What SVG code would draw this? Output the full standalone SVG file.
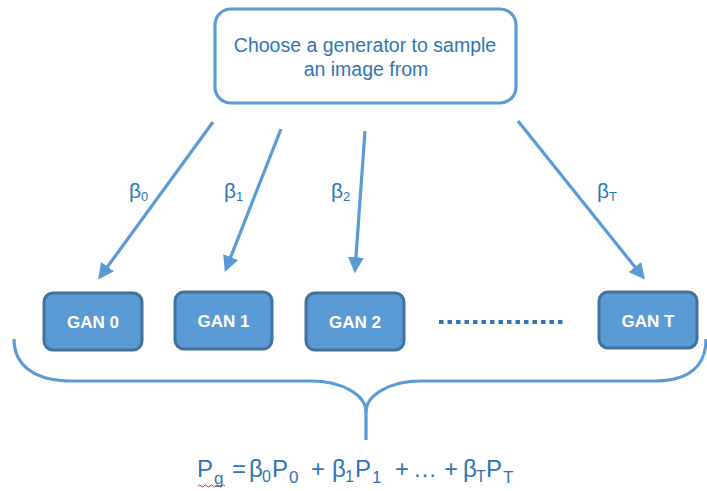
<svg xmlns="http://www.w3.org/2000/svg" width="707" height="491" viewBox="0 0 707 491">
<defs>
<marker id="ah" markerWidth="5" markerHeight="5" refX="4" refY="2.5" orient="auto" markerUnits="strokeWidth">
<path d="M0,0 L5,2.5 L0,5 Z" fill="#5b9bd5"/>
</marker>
<style>
.lbl{font-family:"Liberation Sans",Arial,sans-serif;fill:#2e75b6}
.gan rect{fill:#5b9bd5;stroke:#41719c;stroke-width:3}
.gan text{font-family:"Liberation Sans",Arial,sans-serif;font-weight:bold;font-size:17px;fill:#fff;text-anchor:middle}
.conn line{stroke:#5b9bd5;stroke-width:3.2;marker-end:url(#ah)}
.brace{fill:none;stroke:#5b9bd5;stroke-width:3.2}
</style>
</defs>
<rect width="707" height="491" fill="#fff"/>

<g id="top">
<rect x="215" y="9" width="301" height="94" rx="16" fill="#fff" stroke="#5b9bd5" stroke-width="3.2"/>
<text class="lbl" font-size="19.5" text-anchor="middle"><tspan x="365" y="52">Choose a generator to sample</tspan><tspan x="366" y="76">an image from</tspan></text>
</g>

<g id="connectors" class="conn">
<line x1="213" y1="122" x2="100" y2="277"/>
<line x1="281" y1="129" x2="226" y2="269"/>
<line x1="365" y1="131" x2="355" y2="270"/>
<line x1="518" y1="121" x2="643" y2="277"/>
</g>

<g id="labels" class="lbl" font-size="21">
<text x="129" y="198">β<tspan font-size="13" dy="3">0</tspan></text>
<text x="224" y="198">β<tspan font-size="13" dy="3">1</tspan></text>
<text x="331" y="198">β<tspan font-size="13" dy="3">2</tspan></text>
<text x="597" y="198">β<tspan font-size="13" dy="3">T</tspan></text>
</g>

<g id="gan0" class="gan"><rect x="44" y="293" width="98" height="57" rx="9"/><text x="93" y="328">GAN 0</text></g>
<g id="gan1" class="gan"><rect x="175" y="292" width="97" height="57" rx="9"/><text x="223.5" y="327">GAN 1</text></g>
<g id="gan2" class="gan"><rect x="306" y="293" width="98" height="57" rx="9"/><text x="355" y="328">GAN 2</text></g>
<g id="ganT" class="gan"><rect x="599" y="292" width="98" height="56" rx="9"/><text x="648" y="327">GAN T</text></g>

<line x1="439" y1="322" x2="566" y2="322" stroke="#2e75b6" stroke-width="4" stroke-dasharray="4.5 4"/>

<g id="brace" class="brace">
<path d="M14,339 C14,365 34,381 72,381 H311 C342,381 366,395 366,412"/>
<path d="M366,412 C366,395 390,381 421,381 H654 C690,381 706,365 706,339"/>
<path d="M366,412 V440"/>
</g>

<g id="formula" class="lbl" font-size="24">
<text x="197" y="477">P</text>
<text x="214" y="484" font-size="17">g</text>
<text x="232" y="477">=</text>
<text x="249" y="477">β</text>
<text x="262" y="482" font-size="16">0</text>
<text x="272" y="477">P</text>
<text x="289" y="483" font-size="17">0</text>
<text x="311" y="477">+</text>
<text x="332" y="477">β</text>
<text x="345" y="482" font-size="16">1</text>
<text x="355" y="477">P</text>
<text x="372" y="483" font-size="17">1</text>
<text x="395" y="477">+</text>
<text x="413" y="477">…</text>
<text x="444" y="477">+</text>
<text x="463" y="477">β</text>
<text x="476" y="482" font-size="16">T</text>
<text x="486" y="477">P</text>
<text x="503" y="483" font-size="17">T</text>
</g>
<path d="M198,486 q1.5,-2 3,0 t3,0 t3,0 t3,0 t3,0 t3,0 t3,0 t3,0 t3,0" fill="none" stroke="#e02020" stroke-width="1"/>
</svg>
